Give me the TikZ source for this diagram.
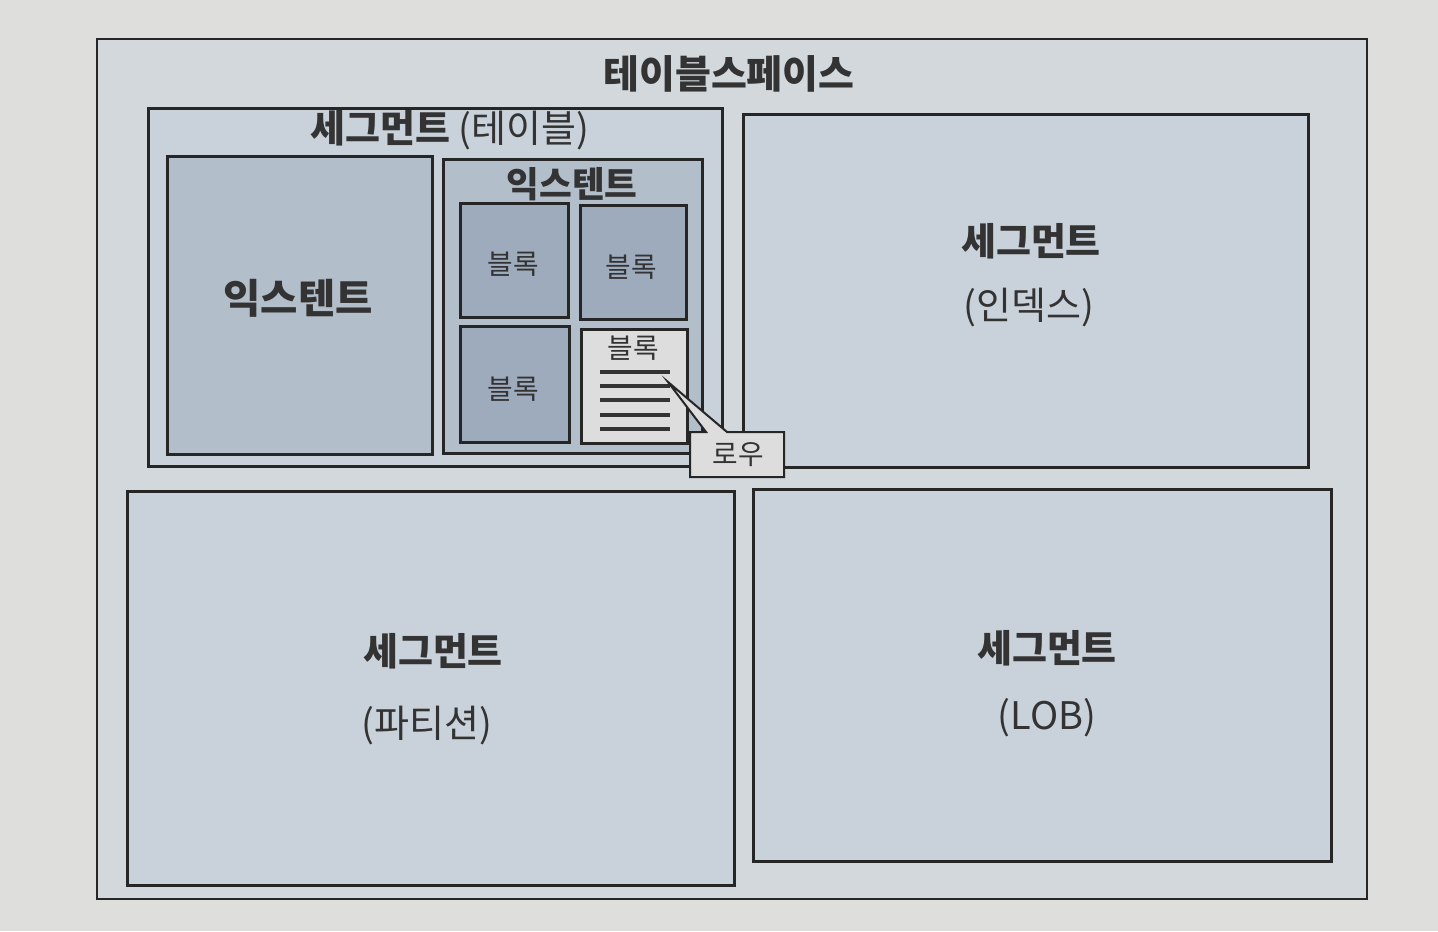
\documentclass[tikz,border=0pt]{standalone}
\usepackage{fontspec}
\setmainfont{Noto Sans CJK KR}
\begin{document}
\begin{tikzpicture}[x=0.5pt,y=-0.5pt,
  seg/.style={draw=black!85, line width=1.3pt, fill=segfill, anchor=north west, inner sep=0pt},
  ext/.style={draw=black!85, line width=1.3pt, fill=extfill, anchor=north west, inner sep=0pt},
  blk/.style={draw=black!85, line width=1.3pt, fill=blkfill, anchor=north west, inner sep=0pt},
  rowblk/.style={draw=black!85, line width=1.3pt, fill=rowfill, anchor=north west, inner sep=0pt},
  ttl/.style={font=\fontsize{19.5}{22}\selectfont\bfseries, text=black!80},
  lbl/.style={font=\fontsize{19}{22}\selectfont\bfseries, text=black!80},
  par/.style={font=\fontsize{19}{22}\selectfont, text=black!80},
  small/.style={font=\fontsize{13.9}{16}\selectfont, text=black!80},
  rowline/.style={line width=2pt, draw=black!80}
]
\definecolor{pagebg}{HTML}{DEDFDC}
\definecolor{segfill}{HTML}{D3D8DD}
\definecolor{extfill}{HTML}{B3BECB}
\definecolor{blkfill}{HTML}{9EABBC}
\definecolor{rowfill}{HTML}{DCDDDC}
\definecolor{segin}{HTML}{C9D1DA}
\fill[pagebg] (0,0) rectangle (1438,931);
\useasboundingbox (0,0) rectangle (1438,931);
% outer tablespace
\node[seg, fill=segfill, line width=1.2pt, minimum width=635pt, minimum height=430pt] (ts) at (96,38) {};
\node[ttl] (tstitle) at (729,74) {테이블스페이스};
% segment table
\node[seg, fill=segin, minimum width=287pt, minimum height=179pt] (segtab) at (147,107) {};
\node[lbl] (segtablbl) at (450,130) {세그먼트 \mdseries(테이블)};
% left extent
\node[ext, minimum width=132.5pt, minimum height=149pt] (extl) at (166,155) {};
\node[font=\fontsize{20.3}{22}\selectfont\bfseries, text=black!80] (extllbl) at (298,298) {익스텐트};
% right extent
\node[ext, minimum width=129.5pt, minimum height=147pt] (extr) at (442,158) {};
\node[font=\fontsize{17.8}{20}\selectfont\bfseries, text=black!80] (extrlbl) at (572,184) {익스텐트};
% blocks
\node[blk, minimum width=54pt, minimum height=57pt] (b1) at (459,202) {};
\node[small] (b1l) at (513,264) {블록};
\node[blk, minimum width=53pt, minimum height=57pt] (b2) at (579,204) {};
\node[small] (b2l) at (631,267) {블록};
\node[blk, minimum width=54.5pt, minimum height=58pt] (b3) at (459,325) {};
\node[small] (b3l) at (513,389) {블록};
\node[rowblk, minimum width=53pt, minimum height=57pt] (b4) at (580,328) {};
\node[small] (b4l) at (633,348) {블록};
\coordinate (r1a) at (600,372); \coordinate (r1b) at (670,372);
\coordinate (r2a) at (600,386); \coordinate (r2b) at (670,386);
\coordinate (r3a) at (600,400); \coordinate (r3b) at (670,400);
\coordinate (r4a) at (600,415); \coordinate (r4b) at (670,415);
\coordinate (r5a) at (600,429); \coordinate (r5b) at (670,429);
\draw[rowline] (r1a) -- (r1b);
\draw[rowline] (r2a) -- (r2b);
\draw[rowline] (r3a) -- (r3b);
\draw[rowline] (r4a) -- (r4b);
\draw[rowline] (r5a) -- (r5b);
% segment index
\node[seg, fill=segin, minimum width=282.5pt, minimum height=176.5pt] (segidx) at (742,113) {};
\node[lbl] (segidxl) at (1031,241) {세그먼트};
\node[par] (segidxp) at (1029,308) {(인덱스)};
% segment partition
\node[seg, fill=segin, minimum width=303.5pt, minimum height=197pt] (segpart) at (126,490) {};
\node[lbl] (segpartl) at (433,651) {세그먼트};
\node[par] (segpartp) at (427,725) {(파티션)};
% segment LOB
\node[seg, fill=segin, minimum width=289pt, minimum height=186pt] (seglob) at (752,488) {};
\node[lbl] (seglobl) at (1047,648) {세그먼트};
\node[par] (seglobp) at (1047,718) {(LOB)};
% callout (drawn last, on top)
\coordinate (tip) at (668,382);
\draw[draw=black!85, line width=1pt, fill=rowfill] (690,432) -- (706,432) -- (tip) -- (727,432) -- (784,432) -- (784,477) -- (690,477) -- cycle;
\node[font=\fontsize{13.9}{16}\selectfont, text=black!80] (row) at (738,455) {로우};
\end{tikzpicture}
\end{document}
